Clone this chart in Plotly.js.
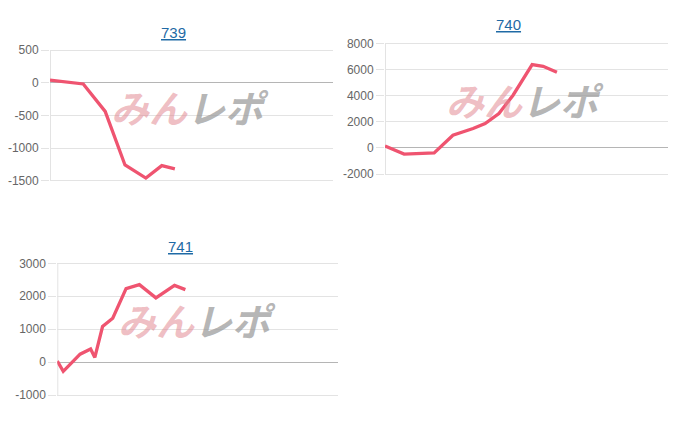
<!DOCTYPE html>
<html>
<head>
<meta charset="utf-8">
<script src="https://cdn.plot.ly/plotly-3.0.1.min.js"></script>
<style>html,body{margin:0;padding:0;background:#fff;}#chart{width:690px;height:422px;}</style>
</head>
<body>
<div id="chart"></div>
<script>
// Machine numbers (chart titles)
const machines = ["739", "740", "741"];

// Games played (x) and coin difference (y)
const games739 = [0, 940, 1560, 2120, 2710, 3160, 3530];
const diff739  = [40, -20, -440, -1260, -1460, -1270, -1320];

const games740 = [0, 540, 1390, 1920, 2490, 2830, 3220, 3620, 4160, 4470, 4860];
const diff740  = [150, -480, -380, 970, 1480, 1860, 2630, 4030, 6370, 6240, 5780];

const games741 = [0, 170, 650, 950, 1070, 1290, 1580, 1960, 2340, 2810, 3340, 3650];
const diff741  = [30, -280, 240, 400, 140, 1080, 1330, 2230, 2350, 1950, 2330, 2200];

// y tick values per chart
const ticks739 = [-1500, -1000, -500, 0, 500];
const ticks740 = [-2000, 0, 2000, 4000, 6000, 8000];
const ticks741 = [-1000, 0, 1000, 2000, 3000];

const lineColor = '#ef5470';
const font = 'Liberation Sans, Arial, sans-serif';
const W = 690, H = 422;

function trace(x, y, xa, ya) {
  return {x: x, y: y, xaxis: xa, yaxis: ya, type: 'scatter', mode: 'lines',
    line: {color: lineColor, width: 3.3}, hoverinfo: 'skip', showlegend: false};
}

const data = [
  trace(games739, diff739, 'x', 'y'),
  trace(games740, diff740, 'x2', 'y2'),
  trace(games741, diff741, 'x3', 'y3')
];

function xax(l, r, anchor) {
  return {domain: [l / W, r / W], anchor: anchor, range: [0, 8000], showgrid: false, zeroline: false,
    showticklabels: false, showline: false, ticks: '', fixedrange: true};
}
// top/bottom: pixel rows of the first and last tick; 3px of padding so edge gridlines are drawn
function yax(top, bottom, anchor, tv) {
  const padPx = 3;
  const lo = tv[0], hi = tv[tv.length - 1];
  const pad = padPx * (hi - lo) / (bottom - top);
  return {domain: [1 - (bottom + padPx) / H, 1 - (top - padPx) / H], anchor: anchor,
    range: [lo - pad, hi + pad], tickvals: tv, ticktext: tv.map(String),
    showgrid: true, gridcolor: '#e3e3e3', gridwidth: 1,
    zeroline: true, zerolinecolor: '#b5b5b5', zerolinewidth: 1,
    showline: false,
    ticks: 'outside', ticklen: 8, tickcolor: '#e3e3e3',
    tickfont: {family: font, size: 12, color: '#666'}, fixedrange: true};
}

function titleAnn(text, x, y) {
  return {text: '<u>' + text + '</u>', x: x / W, y: 1 - y / H, xref: 'paper', yref: 'paper',
    showarrow: false, xanchor: 'center', yanchor: 'middle',
    font: {family: font, size: 15, color: '#1f6aa5'}};
}
function wmAnn(x, y) {
  return {text: '<b><i><span style="color:rgba(225,135,145,0.55)">みん</span><span style="color:rgba(150,150,150,0.7)">レポ</span></i></b>',
    x: x / W, y: 1 - y / H, xref: 'paper', yref: 'paper', showarrow: false,
    xanchor: 'center', yanchor: 'middle',
    font: {family: 'Noto Sans CJK JP, sans-serif', size: 38, weight: 900}};
}

// left axis lines drawn over the plot height (light gray)
function vline(xpx, top, bottom) {
  return {type: 'line', xref: 'paper', yref: 'paper', x0: xpx / W, x1: xpx / W,
    y0: 1 - bottom / H, y1: 1 - top / H, line: {color: '#e3e3e3', width: 1}, layer: 'below'};
}

const layout = {
  width: W, height: H,
  margin: {l: 0, r: 0, t: 0, b: 0},
  paper_bgcolor: '#fff', plot_bgcolor: 'rgba(0,0,0,0)',
  showlegend: false,
  xaxis: xax(50, 333, 'y'),
  yaxis: yax(50, 180.7, 'x', ticks739),
  xaxis2: xax(385, 668, 'y2'),
  yaxis2: yax(43.3, 174, 'x2', ticks740),
  xaxis3: xax(57.3, 338, 'y3'),
  yaxis3: yax(263.3, 395, 'x3', ticks741),
  shapes: [vline(50.5, 50, 181), vline(385.5, 43.3, 174.5), vline(57.8, 263.3, 395.5)],
  annotations: [
    titleAnn(machines[0], 173, 32),
    titleAnn(machines[1], 508, 24),
    titleAnn(machines[2], 180, 246),
    wmAnn(190, 106),
    wmAnn(525, 99),
    wmAnn(197, 319)
  ]
};

Plotly.newPlot('chart', data, layout, {displayModeBar: false, staticPlot: true});
</script>
</body>
</html>
